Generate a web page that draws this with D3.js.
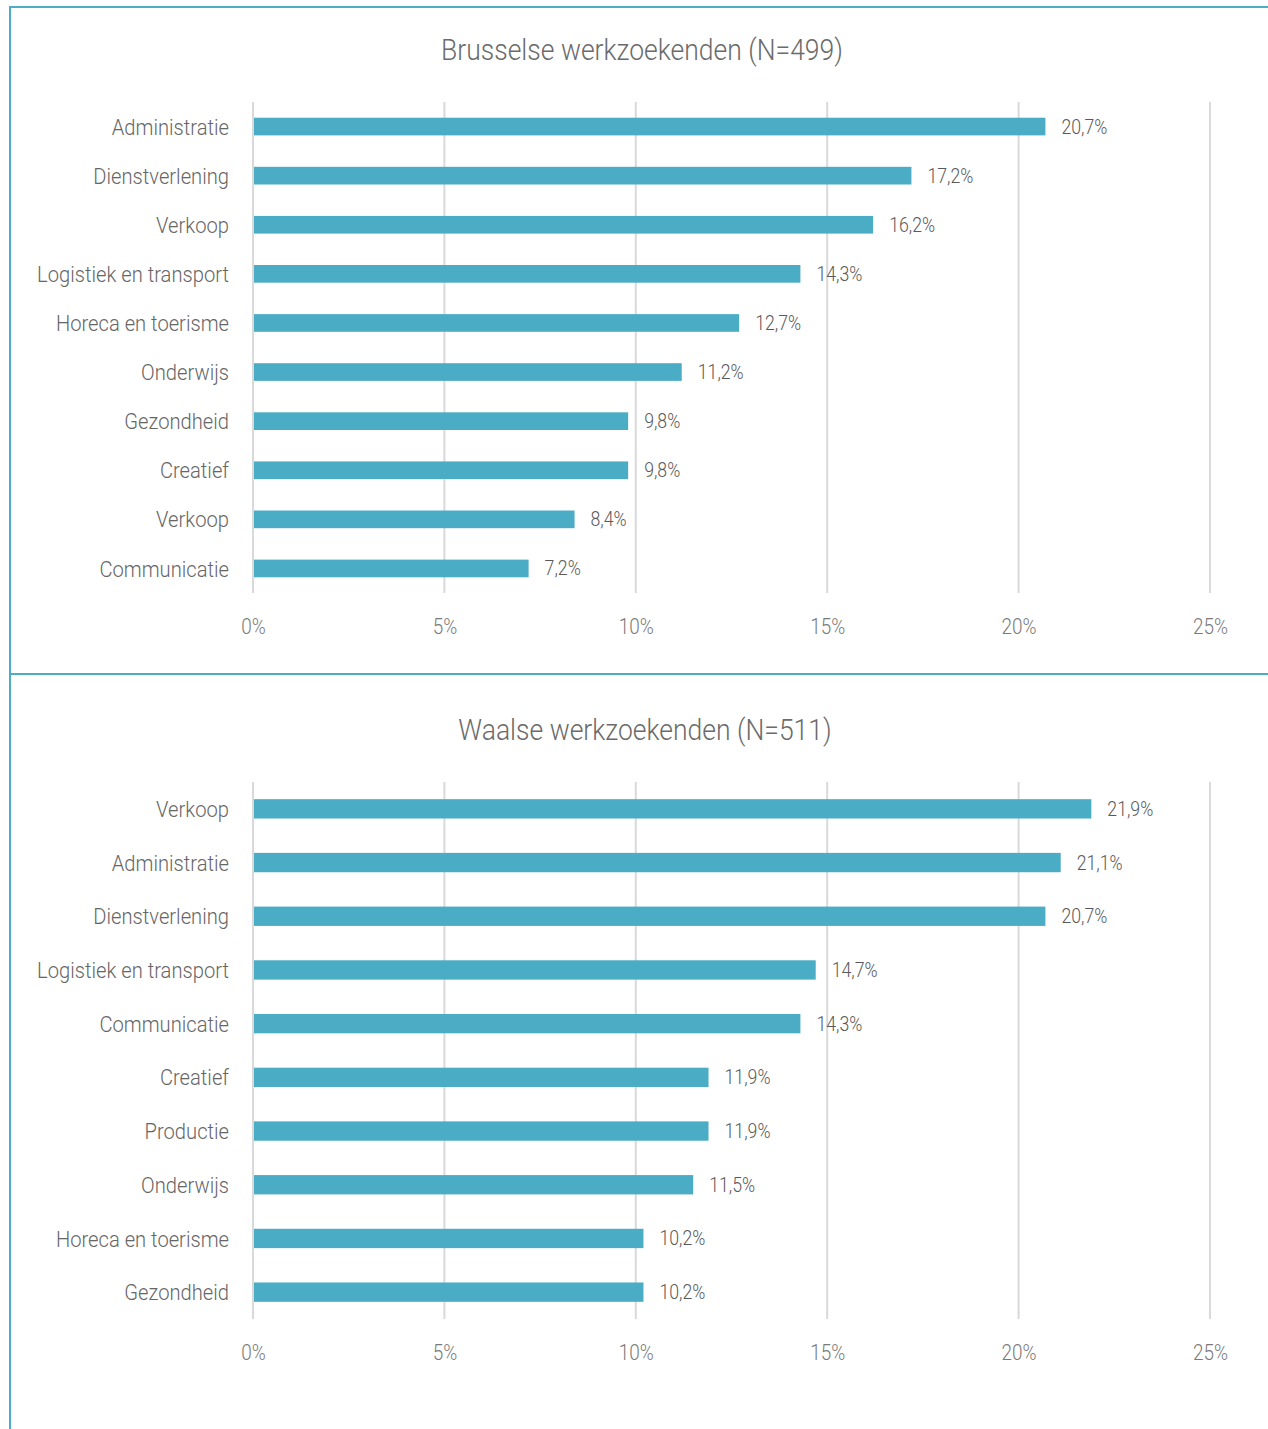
<!DOCTYPE html>
<html>
<head>
<meta charset="utf-8">
<script src="https://cdn.jsdelivr.net/npm/d3@7/dist/d3.min.js"></script>
<style>
  html, body { margin: 0; padding: 0; background: #fff; }
  svg { display: block; }
  text { font-family: "Roboto", "DejaVu Sans Condensed", sans-serif; font-weight: 300; }
</style>
</head>
<body>
<svg id="chart" width="1268" height="1429"></svg>
<script>
const brusselsTitle = "Brusselse werkzoekenden (N=499)";
const brusselsCategories = ["Administratie", "Dienstverlening", "Verkoop", "Logistiek en transport", "Horeca en toerisme", "Onderwijs", "Gezondheid", "Creatief", "Verkoop", "Communicatie"];
const brusselsValues = [20.7, 17.2, 16.2, 14.3, 12.7, 11.2, 9.8, 9.8, 8.4, 7.2];

const walloonTitle = "Waalse werkzoekenden (N=511)";
const walloonCategories = ["Verkoop", "Administratie", "Dienstverlening", "Logistiek en transport", "Communicatie", "Creatief", "Productie", "Onderwijs", "Horeca en toerisme", "Gezondheid"];
const walloonValues = [21.9, 21.1, 20.7, 14.7, 14.3, 11.9, 11.9, 11.5, 10.2, 10.2];

const tickValues = [0, 5, 10, 15, 20, 25];
const tickLabels = ["0%", "5%", "10%", "15%", "20%", "25%"];

const svg = d3.select("#chart");
const border = "#4BACC6";
const barColor = "#4BACC6";

// horizontal condensing factor so the generic font matches the reference's narrow face
function factor(str, size, target) {
  const t = svg.append("text").attr("font-size", size).text(str);
  const w = t.node().getComputedTextLength();
  t.remove();
  return Math.min(1, target / w);
}
const fCat = factor("Logistiek en transport", 23, 192);
const fTitle = factor("Brusselse werkzoekenden (N=499)", 30, 402);
const fVal = factor("20,7%", 20, 46);
const fTick = factor("25%", 22, 35);

// frame lines
svg.append("line").attr("x1", 10).attr("x2", 1268).attr("y1", 7).attr("y2", 7).attr("stroke", border).attr("stroke-width", 2);
svg.append("line").attr("x1", 10).attr("x2", 10).attr("y1", 6).attr("y2", 1429).attr("stroke", border).attr("stroke-width", 2);
svg.append("line").attr("x1", 10).attr("x2", 1268).attr("y1", 674).attr("y2", 674).attr("stroke", border).attr("stroke-width", 2);

const fmt = v => d3.format(".1f")(v).replace(".", ",") + "%";

function drawPanel(cfg) {
  const g = svg.append("g");
  const x = d3.scaleLinear().domain([0, 25]).range([253, 1210]);
  const y = d3.scaleBand().domain(d3.range(cfg.categories.length)).range([cfg.top, cfg.bottom]).paddingInner(0.64).paddingOuter(0.32);

  g.append("text")
    .attr("transform", `translate(${cfg.titleX},${cfg.titleY}) scale(${fTitle},1)`)
    .attr("text-anchor", "middle").attr("font-size", 30).attr("fill", "#6b6b6b").text(cfg.title);

  // gridlines
  g.selectAll(".grid").data(tickValues).enter().append("line")
    .attr("x1", d => x(d)).attr("x2", d => x(d))
    .attr("y1", cfg.top).attr("y2", cfg.bottom)
    .attr("stroke", "#d9d9d9").attr("stroke-width", 2);

  // x axis via d3 axis
  const axis = d3.axisBottom(x).tickValues(tickValues).tickFormat((d, i) => tickLabels[i]).tickSize(0).tickPadding(0);
  const ax = g.append("g").attr("transform", `translate(0,${cfg.tickY})`).call(axis);
  ax.select(".domain").remove();
  ax.selectAll("text").attr("font-size", 22).attr("fill", "#7a7a7a").attr("dy", "0.35em")
    .attr("y", 0).attr("transform", `scale(${fTick},1)`)
    .style("font-family", '"Roboto", "DejaVu Sans Condensed", sans-serif').style("font-weight", 300);

  // bars
  g.selectAll(".bar").data(cfg.values).enter().append("rect")
    .attr("x", x(0) + 1).attr("y", (d, i) => y(i))
    .attr("width", d => x(d) - x(0) - 1).attr("height", y.bandwidth())
    .attr("fill", barColor);

  // value labels
  g.selectAll(".val").data(cfg.values).enter().append("text")
    .attr("transform", (d, i) => `translate(${x(d) + 16},${y(i) + y.bandwidth() / 2}) scale(${fVal},1)`)
    .attr("dy", "0.35em").attr("font-size", 20).attr("fill", "#595959").text(d => fmt(d));

  // category labels
  g.selectAll(".cat").data(cfg.categories).enter().append("text")
    .attr("transform", (d, i) => `translate(229,${y(i) + y.bandwidth() / 2}) scale(${fCat},1)`)
    .attr("text-anchor", "end").attr("dy", "0.35em").attr("font-size", 23).attr("fill", "#666").text(d => d);
}

drawPanel({ title: brusselsTitle, categories: brusselsCategories, values: brusselsValues,
  top: 102, bottom: 593, titleX: 642, titleY: 60, tickY: 626 });
drawPanel({ title: walloonTitle, categories: walloonCategories, values: walloonValues,
  top: 782, bottom: 1319, titleX: 645, titleY: 740, tickY: 1352 });
</script>
</body>
</html>
